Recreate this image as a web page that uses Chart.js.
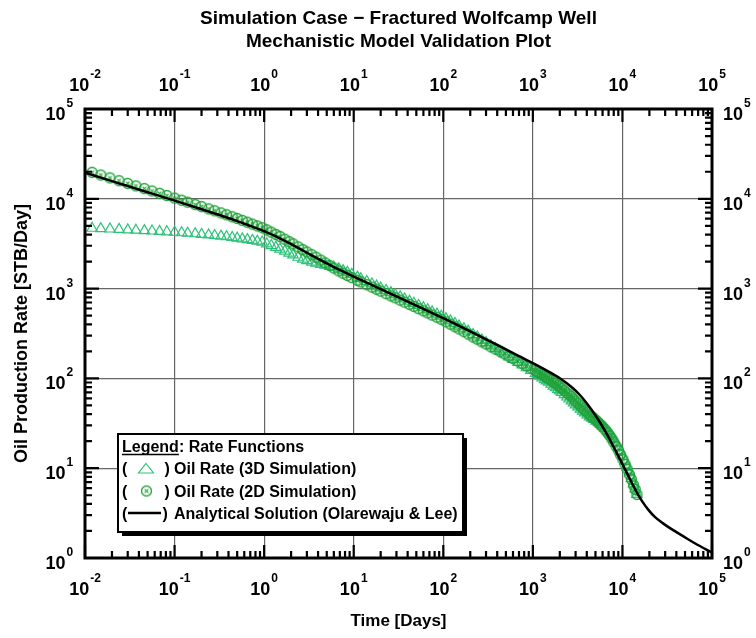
<!DOCTYPE html>
<html>
<head>
<meta charset="utf-8">
<title>Mechanistic Model Validation Plot</title>
<script src="https://cdn.jsdelivr.net/npm/chart.js@4.4.1/dist/chart.umd.min.js"></script>
<style>
  html, body { margin: 0; padding: 0; background: #fff; }
  #wrap { width: 756px; height: 638px; position: relative; }
</style>
</head>
<body>
<div id="wrap"><canvas id="chart" width="756" height="638"></canvas></div>
<script>
// axis ranges / tick labels (powers of ten)
const xExponents = [-2, -1, 0, 1, 2, 3, 4, 5];
const yExponents = [0, 1, 2, 3, 4, 5];

// simulation time steps [days] (shared by 2D and 3D runs)
const simDays = [
  0.012, 0.015, 0.019, 0.024, 0.03, 0.037, 0.046, 0.056, 0.068, 0.082,
  0.1, 0.12, 0.14, 0.17, 0.2, 0.24, 0.28, 0.33, 0.38, 0.44,
  0.5, 0.57, 0.65, 0.74, 0.84, 0.95, 1.07, 1.2, 1.35, 1.5,
  1.7, 1.9, 2.1, 2.4, 2.7, 3.0, 3.4, 3.8, 4.3, 4.8,
  5.4, 6.0, 6.8, 7.6, 8.5, 9.5, 11, 12, 14, 16,
  18, 20, 23, 26, 29, 33, 37, 42, 47, 53,
  60, 67, 75, 85, 95, 107, 120, 135, 150, 170,
  190, 215, 240, 270, 300, 340, 380, 430, 480, 540,
  600, 680, 760, 850, 950, 1070, 1130, 1200, 1270, 1350,
  1420, 1500, 1600, 1700, 1800, 1900, 2000, 2100, 2250, 2400,
  2550, 2700, 2850, 3000, 3200, 3400, 3600, 3800, 4050, 4300,
  4550, 4800, 5100, 5400, 5700, 6000, 6400, 6800, 7200, 7600,
  8000, 8500, 9000, 9500, 10100, 10700, 11300, 12000, 12600, 13300,
  13900, 14500
];

// oil rate, 3D simulation [STB/D]
const rate3D = [
  4700, 4660, 4610, 4560, 4510, 4470, 4420, 4380, 4340, 4290,
  4240, 4190, 4140, 4080, 4020, 3960, 3900, 3840, 3780, 3710,
  3650, 3580, 3510, 3440, 3370, 3300, 3155, 3015, 2875, 2755,
  2615, 2485, 2375, 2235, 2125, 2045, 1970, 1925, 1865, 1820,
  1770, 1730, 1657, 1586, 1518, 1439, 1342, 1289, 1199, 1127,
  1067, 1017, 953, 901, 857, 808, 766, 723, 686, 649,
  612, 581, 551, 520, 493, 463, 437, 408, 383, 357,
  335, 308, 289, 267, 250, 230, 215, 200, 187, 174,
  163, 151, 141, 132, 123, 114, 110, 106, 101.5, 97,
  93.8, 90.7, 86.2, 81.9, 78.7, 75.6, 72.6, 69.7, 65.8, 62.1,
  59, 56.1, 53.4, 50.8, 48.1, 45.5, 43.3, 41.3, 39.3, 37.3,
  36.1, 35.0, 33.5, 32.1, 30.8, 29.5, 27.8, 26.1, 24.4, 22.8,
  21.1, 19.0, 17.1, 15.3, 13.5, 11.9, 10.3, 8.9, 7.7, 6.7,
  5.9, 5.1
];

// oil rate, 2D simulation [STB/D]
const rate2D = [
  19700, 18400, 17100, 15900, 14840, 13910, 13000, 12230, 11510, 10870,
  10190, 9640, 9180, 8625, 8185, 7720, 7350, 6960, 6635, 6310,
  6045, 5757, 5485, 5225, 4990, 4765, 4510, 4260, 4015, 3810,
  3550, 3335, 3150, 2915, 2720, 2560, 2385, 2235, 2073, 1936,
  1805, 1695, 1575, 1485, 1400, 1327, 1238, 1188, 1106, 1039,
  984, 938, 879, 831, 790, 745, 707, 667, 633, 598,
  565, 536, 508, 480, 455, 427, 402, 377, 356, 332,
  311, 289, 273, 255, 242, 225, 213, 200, 188, 176,
  167, 156, 146, 138, 131, 122, 118, 114, 110, 106,
  102.5, 99, 95, 91, 87.5, 84, 80.5, 77.4, 73, 69,
  65.7, 62.5, 59, 55.8, 52.5, 49.4, 46.7, 44.1, 41.6, 39.2,
  37.5, 35.9, 34, 32.1, 30.5, 28.9, 26.9, 24.9, 23.1, 21.3,
  19.6, 17.6, 15.9, 14.2, 12.6, 11.1, 9.8, 8.5, 7.5, 6.5,
  5.8, 5.1
];

// analytical solution (Olarewaju & Lee)
const anaDays = [
  0.01, 0.02, 0.03, 0.05, 0.1, 0.2, 0.3, 0.5, 0.7, 1,
  1.5, 2, 3, 5, 7, 10, 15, 20, 30, 50,
  100, 200, 300, 500, 700, 1000, 1500, 2000, 2700, 3350,
  4500, 5600, 6700, 7870, 9500, 11100, 13000, 15000, 17000, 19400,
  23000, 28400, 35000, 47500, 65000, 100000
];
const anaRate = [
  19500, 15730, 13870, 11840, 9550, 7650, 6720, 5648, 4986, 4370,
  3627, 3123, 2509, 1914, 1618, 1363, 1126, 987, 819, 648,
  468, 333, 272, 211, 177, 148, 119, 100.4, 80.1, 65.3,
  45.1, 32.5, 24.0, 17.8, 12.3, 9.04, 6.59, 5.06, 4.14, 3.46,
  2.87, 2.43, 2.11, 1.75, 1.45, 1.15
];

const FONT = "'Liberation Sans', Arial, Helvetica, sans-serif";
const GREEN_3D = "#2ec27a";
const GREEN_2D = "#22a23a";

const xy = (xs, ys) => xs.map((x, i) => ({ x, y: ys[i] }));

// circle with a small "x" inside (⊗ marker)
function circleX(color, r, lw) {
  const s = Math.ceil(r * 2 + lw * 2 + 2);
  const c = document.createElement("canvas");
  c.width = s; c.height = s;
  const g = c.getContext("2d");
  g.strokeStyle = color; g.lineWidth = lw;
  g.beginPath(); g.arc(s / 2, s / 2, r, 0, Math.PI * 2); g.stroke();
  const k = r * 0.38;
  g.lineWidth = lw * 0.8;
  g.beginPath();
  g.moveTo(s / 2 - k, s / 2 - k); g.lineTo(s / 2 + k, s / 2 + k);
  g.moveTo(s / 2 + k, s / 2 - k); g.lineTo(s / 2 - k, s / 2 + k);
  g.stroke();
  return c;
}
const marker2D = circleX(GREEN_2D, 5, 1.3);

const isDecade = (v) => Math.abs(Math.log10(v) - Math.round(Math.log10(v))) < 1e-6;
const gridColor = (c) => (c.tick && isDecade(c.tick.value) ? "#666" : "rgba(0,0,0,0)");

function pow10(ctx, exp, x, baseY, expY, mode) {
  ctx.font = `bold 18px ${FONT}`;
  const wb = ctx.measureText("10").width;
  ctx.font = `bold 12px ${FONT}`;
  const we = ctx.measureText(String(exp)).width;
  let x0;
  if (mode === "center") x0 = x - (wb + 1 + we) / 2;
  else if (mode === "right") x0 = x - wb;
  else x0 = x;
  ctx.textAlign = "left";
  ctx.textBaseline = "alphabetic";
  ctx.font = `bold 18px ${FONT}`;
  ctx.fillText("10", x0, baseY);
  ctx.font = `bold 12px ${FONT}`;
  ctx.fillText(String(exp), x0 + wb + 1, expY);
}

// frame, inner ticks, power-of-ten labels, titles, legend box
const decor = {
  id: "decor",
  afterDraw(chart) {
    const { ctx, chartArea: a, scales } = chart;
    const xs = scales.x, ys = scales.y;
    ctx.save();
    ctx.fillStyle = "#000";
    ctx.strokeStyle = "#000";

    // inner ticks
    ctx.lineWidth = 2.2;
    ctx.beginPath();
    xExponents.forEach((e) => {
      for (let m = 1; m <= 9; m++) {
        const v = m * Math.pow(10, e);
        if (v > xs.max * 1.0001) continue;
        const px = xs.getPixelForValue(v);
        const len = m === 1 ? 13 : 7;
        ctx.moveTo(px, a.bottom); ctx.lineTo(px, a.bottom - len);
        ctx.moveTo(px, a.top); ctx.lineTo(px, a.top + len);
      }
    });
    yExponents.forEach((e) => {
      for (let m = 1; m <= 9; m++) {
        const v = m * Math.pow(10, e);
        if (v > ys.max * 1.0001) continue;
        const py = ys.getPixelForValue(v);
        const len = m === 1 ? 14 : 7;
        ctx.moveTo(a.left, py); ctx.lineTo(a.left + len, py);
        ctx.moveTo(a.right, py); ctx.lineTo(a.right - len, py);
      }
    });
    ctx.stroke();

    // frame
    ctx.lineWidth = 3;
    ctx.strokeRect(a.left, a.top, a.right - a.left, a.bottom - a.top);

    // tick labels
    xExponents.forEach((e) => {
      const px = xs.getPixelForValue(Math.pow(10, e));
      pow10(ctx, e, px, a.bottom + 37, a.bottom + 24, "center");
      pow10(ctx, e, px, a.top - 18, a.top - 31, "center");
    });
    yExponents.forEach((e) => {
      const py = ys.getPixelForValue(Math.pow(10, e));
      pow10(ctx, e, a.left - 19.5, py + 11, py - 2, "right");
      pow10(ctx, e, a.right + 11, py + 11, py - 2, "left");
    });

    // titles
    const cx = (a.left + a.right) / 2;
    ctx.textAlign = "center";
    ctx.textBaseline = "alphabetic";
    ctx.font = `bold 19px ${FONT}`;
    ctx.fillText("Simulation Case \u2212 Fractured Wolfcamp Well", cx, 24);
    ctx.fillText("Mechanistic Model Validation Plot", cx, 47);
    ctx.font = `bold 17px ${FONT}`;
    ctx.fillText("Time [Days]", cx, 626);
    ctx.save();
    ctx.translate(26.5, (a.top + a.bottom) / 2);
    ctx.rotate(-Math.PI / 2);
    ctx.font = `bold 18px ${FONT}`;
    ctx.fillText("Oil Production Rate [STB/Day]", 0, 0);
    ctx.restore();

    // legend box with drop shadow
    const bx = 118, by = 434, bw = 345, bh = 98;
    ctx.fillStyle = "#000";
    ctx.fillRect(bx + 4, by + 4, bw, bh);
    ctx.fillStyle = "#fff";
    ctx.fillRect(bx, by, bw, bh);
    ctx.lineWidth = 2;
    ctx.strokeRect(bx, by, bw, bh);

    ctx.fillStyle = "#000";
    ctx.textAlign = "left";
    ctx.font = `bold 16px ${FONT}`;
    ctx.fillText("Legend", 122, 452);
    const wl = ctx.measureText("Legend").width;
    ctx.fillText(": Rate Functions", 122 + wl, 452);
    ctx.lineWidth = 1.3;
    ctx.beginPath(); ctx.moveTo(122, 454.5); ctx.lineTo(122 + wl, 454.5); ctx.stroke();

    const rows = [
      { y: 474, text: "Oil Rate (3D Simulation)" },
      { y: 496.5, text: "Oil Rate (2D Simulation)" },
      { y: 518.5, text: "Analytical Solution (Olarewaju & Lee)" }
    ];
    rows.forEach((r, i) => {
      ctx.fillStyle = "#000";
      ctx.fillText("(", 122, r.y);
      ctx.fillText(")", i === 2 ? 162.5 : 164.5, r.y);
      ctx.fillText(r.text, 174, r.y);
    });
    // legend symbols
    ctx.strokeStyle = GREEN_3D; ctx.lineWidth = 1.2;
    ctx.beginPath();
    ctx.moveTo(146, 463.5); ctx.lineTo(153.5, 473); ctx.lineTo(138.5, 473); ctx.closePath();
    ctx.stroke();
    ctx.drawImage(marker2D, 146.5 - marker2D.width / 2, 491 - marker2D.height / 2);
    ctx.strokeStyle = "#000"; ctx.lineWidth = 2.5;
    ctx.beginPath(); ctx.moveTo(128, 513); ctx.lineTo(161, 513); ctx.stroke();

    ctx.restore();
  }
};

new Chart(document.getElementById("chart"), {
  type: "scatter",
  data: {
    datasets: [
      {
        label: "Analytical Solution (Olarewaju & Lee)",
        data: xy(anaDays, anaRate),
        showLine: true,
        borderColor: "#000",
        borderWidth: 2.5,
        pointRadius: 0,
        cubicInterpolationMode: "monotone",
        order: 0
      },
      {
        label: "Oil Rate (2D Simulation)",
        data: xy(simDays, rate2D),
        pointStyle: marker2D,
        pointRadius: 5,
        order: 1
      },
      {
        label: "Oil Rate (3D Simulation)",
        data: xy(simDays, rate3D),
        pointStyle: "triangle",
        pointRadius: 6,
        borderColor: GREEN_3D,
        backgroundColor: "rgba(0,0,0,0)",
        borderWidth: 1.2,
        order: 2
      }
    ]
  },
  options: {
    responsive: false,
    animation: false,
    devicePixelRatio: 1,
    layout: { padding: { left: 85, top: 109, right: 44, bottom: 80 } },
    plugins: { legend: { display: false }, tooltip: { enabled: false }, title: { display: false } },
    scales: {
      x: {
        type: "logarithmic",
        min: 0.01, max: 100000,
        ticks: { display: false },
        border: { display: false },
        grid: { drawTicks: false, lineWidth: 1.2, color: gridColor }
      },
      y: {
        type: "logarithmic",
        min: 1, max: 100000,
        ticks: { display: false },
        border: { display: false },
        grid: { drawTicks: false, lineWidth: 1.2, color: gridColor }
      }
    }
  },
  plugins: [decor]
});
</script>
</body>
</html>
